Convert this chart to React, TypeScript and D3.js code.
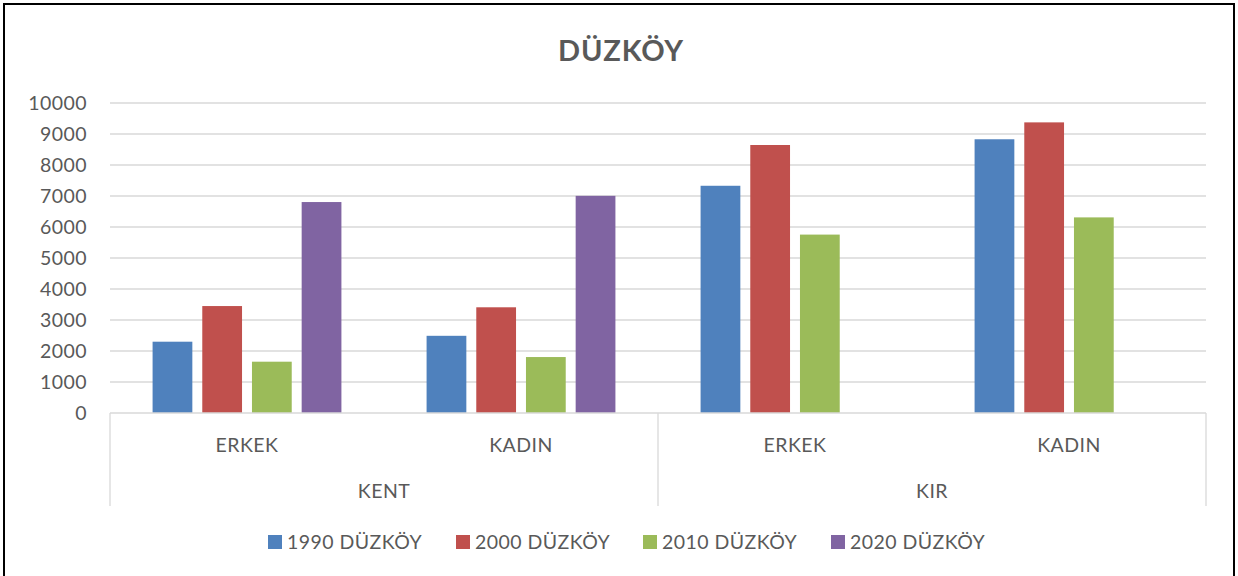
import React from "react";
import * as d3 from "d3";

const groups = ["KENT", "KIR"];
const subCategories = ["ERKEK", "KADIN"];
const categoryKeys = ["KENT|ERKEK", "KENT|KADIN", "KIR|ERKEK", "KIR|KADIN"];
const seriesNames = ["1990 DÜZKÖY", "2000 DÜZKÖY", "2010 DÜZKÖY", "2020 DÜZKÖY"];
const seriesColors = ["#4f81bd", "#c0504d", "#9bbb59", "#8064a2"];
const values1990 = [2300, 2490, 7330, 8830];
const values2000 = [3450, 3410, 8645, 9375];
const values2010 = [1655, 1805, 5755, 6310];
const values2020: (number | null)[] = [6805, 7005, null, null];
const yTicks = [0, 1000, 2000, 3000, 4000, 5000, 6000, 7000, 8000, 9000, 10000];
const title = "DÜZKÖY";

const W = 1238;
const H = 576;
const FONT = "Lato, 'Open Sans', sans-serif";
const TEXT = "#595959";
const GRID = "#d9d9d9";
const FS = 19.5;
const LS = 0.45;

export default function App() {
  const allSeries = [values1990, values2000, values2010, values2020];
  const plotLeft = 110;
  const plotRight = 1206;
  const x0 = d3.scaleBand<string>().domain(categoryKeys).range([plotLeft, plotRight]).padding(0);
  const x1 = d3
    .scaleBand<string>()
    .domain(seriesNames)
    .range([0, x0.bandwidth()])
    .paddingInner(0.2)
    .paddingOuter(0.857);
  const y = d3.scaleLinear().domain([0, 10000]).range([413, 103]);
  const axisY = y(0);
  const boxBottom = 506;

  const groupX = d3.scaleBand<string>().domain(groups).range([plotLeft, plotRight]).padding(0);

  const legendX = [268, 456, 643, 831];
  const legendY = 542;

  return (
    <div style={{ position: "absolute", left: 0, top: 0, width: W, height: H, background: "#fff" }}>
      <svg width={W} height={H} style={{ display: "block" }}>
        <rect x={0} y={0} width={W} height={H} fill="#fff" />
        <rect x={4} y={4} width={1230} height={H + 10} fill="none" stroke="#000" strokeWidth={2} />
        <text
          x={621}
          y={61}
          textAnchor="middle"
          fontFamily={FONT}
          fontWeight={700}
          fontSize={29}
          letterSpacing={0.8}
          fill={TEXT}
        >
          {title}
        </text>

        {yTicks.map((t) => (
          <g key={t}>
            {t !== 0 && (
              <line x1={plotLeft} x2={plotRight} y1={y(t)} y2={y(t)} stroke={GRID} strokeWidth={1.3} />
            )}
            <text
              x={87}
              y={y(t)}
              dy="0.36em"
              textAnchor="end"
              fontFamily={FONT}
              fontSize={FS}
              letterSpacing={LS}
              fill={TEXT}
            >
              {t}
            </text>
          </g>
        ))}

        {allSeries.map((vals, si) =>
          vals.map((v, ci) =>
            v == null ? null : (
              <rect
                key={`${si}-${ci}`}
                x={(x0(categoryKeys[ci]) as number) + (x1(seriesNames[si]) as number)}
                y={y(v)}
                width={x1.bandwidth()}
                height={axisY - y(v)}
                fill={seriesColors[si]}
              />
            )
          )
        )}

        <line x1={plotLeft} x2={plotRight} y1={axisY} y2={axisY} stroke={GRID} strokeWidth={1.3} />
        {[plotLeft, groupX("KIR") as number, plotRight].map((xx, i) => (
          <line key={i} x1={xx} x2={xx} y1={axisY} y2={boxBottom} stroke={GRID} strokeWidth={1.3} />
        ))}
        {categoryKeys.map((k, i) => (
          <text
            key={k}
            x={(x0(k) as number) + x0.bandwidth() / 2}
            y={445}
            dy="0.36em"
            textAnchor="middle"
            fontFamily={FONT}
            fontSize={FS}
            letterSpacing={LS}
            fill={TEXT}
          >
            {subCategories[i % 2]}
          </text>
        ))}
        {groups.map((g) => (
          <text
            key={g}
            x={(groupX(g) as number) + groupX.bandwidth() / 2}
            y={491}
            dy="0.36em"
            textAnchor="middle"
            fontFamily={FONT}
            fontSize={FS}
            letterSpacing={LS}
            fill={TEXT}
          >
            {g}
          </text>
        ))}

        {seriesNames.map((s, i) => (
          <g key={s}>
            <rect x={legendX[i]} y={legendY - 7} width={14} height={14} fill={seriesColors[i]} />
            <text
              x={legendX[i] + 19}
              y={legendY}
              dy="0.36em"
              fontFamily={FONT}
              fontSize={FS}
              letterSpacing={LS}
              fill={TEXT}
            >
              {s}
            </text>
          </g>
        ))}
      </svg>
    </div>
  );
}
